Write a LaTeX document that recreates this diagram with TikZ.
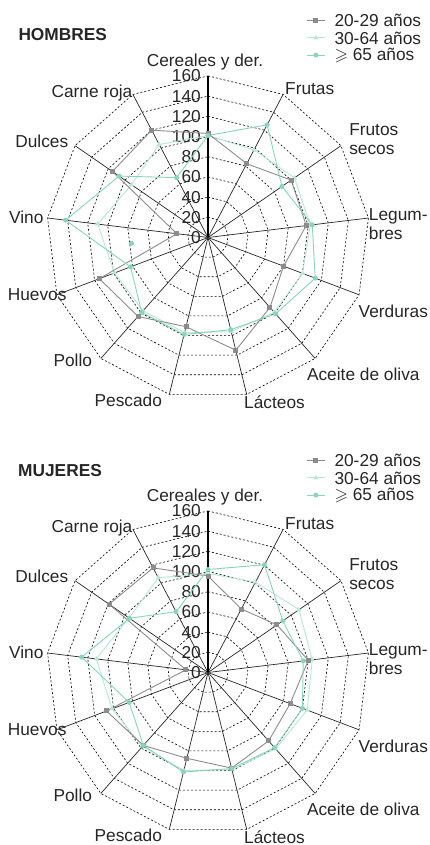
\documentclass[tikz,border=0pt]{standalone}
\usepackage{amssymb}
\usepackage{fontspec}
\setmainfont{Liberation Sans}
\usetikzlibrary{shapes.geometric,calc}
\definecolor{gris}{HTML}{8C8C8C}
\definecolor{verdeclaro}{HTML}{B9E6D7}
\definecolor{verde}{HTML}{8AD3BC}
\begin{document}
\begin{tikzpicture}[x=1pt, y=1pt,
        every node/.style={font=\fontsize{17.3}{19}\selectfont, inner sep=0pt, text=black!85},
        eje/.style={draw=black!85, line width=0.7pt},
        ejecero/.style={draw=black, line width=1.5pt},
        anillo/.style={draw=black, line width=0.6pt, dash pattern=on 2pt off 2pt},
        serieA/.style={draw=gris, line width=0.9pt},
        serieB/.style={draw=verdeclaro, line width=0.9pt},
        serieC/.style={draw=verde, line width=0.9pt},
        marcaA/.style={rectangle, fill=gris, minimum size=5pt},
        marcaB/.style={regular polygon, regular polygon sides=3, fill=verdeclaro, minimum size=6pt},
        marcaC/.style={circle, fill=verde, minimum size=5pt},
        titulo/.style={anchor=west, font=\fontsize{17.3}{19}\selectfont\bfseries},
        leyenda/.style={anchor=west},
        escala/.style={anchor=east},
        categoria/.style={align=left},
    ]
    \useasboundingbox (0,0) rectangle (429,845);

    % ---------- HOMBRES ----------
    \begin{scope}[shift={(208,607.5)}]
        \coordinate (h-c) at (0,0);
        \foreach \r in {20,40,...,160}
            \draw[anillo] (90:{\r*1.01}) \foreach \k in {1,...,12} {-- ({90-\k*360/13}:{\r*1.01})} -- cycle;
        \foreach \k in {1,...,12} {
            \coordinate (h-e\k) at ({90-\k*360/13}:161.6);
            \draw[eje] (h-c) -- (h-e\k);
        }
        \coordinate (h-e0) at (90:161.6);
        \draw[ejecero] (h-c) -- (h-e0);
        \foreach \r in {0,20,...,160}
            \node[escala] (h-t\r) at (-7,{\r*1.01}) {\r};

        % categorias
        \foreach \lab/\x/\y [count=\k] in {Cereales y der./-3/175.5, Frutas/101.7/148.5,
                Frutos\\secos/165.8/98.8, Legum-\\bres/190.3/13.5, Verduras/185.3/-73.5,
                Aceite de oliva/155.3/-137, L\'acteos/66.5/-165, Pescado/-79.7/-163,
                Pollo/-135.2/-122.5, Huevos/-170.8/-57.5, Vino/-181.7/20.2,
                Dulces/-166.2/95.8, Carne roja/-116/144}
            \node[categoria] (h-l\k) at (\x,\y) {\lab};

        % series
        \foreach \v [count=\k from 0] in {101,98,104,102,100,99,96,97,97,99,110,92,104}
            \coordinate (h-b\k) at ({90-\k*360/13}:{\v*1.01});
        \foreach \v [count=\k from 0] in {103,82.5,100,98,80,92.5,115,91,104.5,115,31,115,120}
            \coordinate (h-a\k) at ({90-\k*360/13}:{\v*1.01});
        \foreach \v [count=\k from 0] in {101,126,89,104,113.5,101,94,99,99,82,142,107,67}
            \coordinate (h-d\k) at ({90-\k*360/13}:{\v*1.01});
        \draw[serieB] (h-b0) \foreach \k in {1,...,12} {-- (h-b\k)} -- cycle;
        \draw[serieA] (h-a0) \foreach \k in {1,...,12} {-- (h-a\k)} -- cycle;
        \draw[serieC] (h-d0) \foreach \k in {1,...,12} {-- (h-d\k)} -- cycle;
        \foreach \k in {0,...,12} {
            \node[marcaB] (h-mb\k) at (h-b\k) {};
            \node[marcaA] (h-ma\k) at (h-a\k) {};
            \node[marcaC] (h-md\k) at (h-d\k) {};
        }
        \node[marcaC] (h-suelto) at (-76.5,-5.8) {};

        \node[titulo] (h-titulo) at (-189.7,203.2) {HOMBRES};

        % leyenda
        \foreach \s/\txt [count=\j] in {A/20-29 a\~nos, B/30-64 a\~nos, C/$\geqslant$ 65 a\~nos} {
            \coordinate (h-li\j) at (98.7,{234-17.2*\j});
            \coordinate (h-lf\j) at (117,{234-17.2*\j});
            \draw[serie\s] (h-li\j) -- (h-lf\j);
            \node[marca\s] (h-lm\j) at ($(h-li\j)!0.5!(h-lf\j)$) {};
            \node[leyenda] (h-lt\j) at (126.3,{234-17.2*\j}) {\txt};
        }
    \end{scope}

    % ---------- MUJERES ----------
    \begin{scope}[shift={(208,172.5)}]
        \coordinate (m-c) at (0,0);
        \foreach \r in {20,40,...,160}
            \draw[anillo] (90:{\r*1.01}) \foreach \k in {1,...,12} {-- ({90-\k*360/13}:{\r*1.01})} -- cycle;
        \foreach \k in {1,...,12} {
            \coordinate (m-e\k) at ({90-\k*360/13}:161.6);
            \draw[eje] (m-c) -- (m-e\k);
        }
        \coordinate (m-e0) at (90:161.6);
        \draw[ejecero] (m-c) -- (m-e0);
        \foreach \r in {0,20,...,160}
            \node[escala] (m-t\r) at (-7,{\r*1.01}) {\r};

        % categorias
        \foreach \lab/\x/\y [count=\k] in {Cereales y der./-3/175.5, Frutas/101.7/148.5,
                Frutos\\secos/165.8/98.8, Legum-\\bres/190.3/13.5, Verduras/185.3/-73.5,
                Aceite de oliva/155.3/-137, L\'acteos/66.5/-165, Pescado/-79.7/-163,
                Pollo/-135.2/-122.5, Huevos/-170.8/-57.5, Vino/-181.7/20.2,
                Dulces/-166.2/95.8, Carne roja/-116/144}
            \node[categoria] (m-l\k) at (\x,\y) {\lab};

        % series
        \foreach \v [count=\k from 0] in {98,101,109.5,104,105,101,99,100,98,101.5,111.5,95,106}
            \coordinate (m-b\k) at ({90-\k*360/13}:{\v*1.01});
        \foreach \v [count=\k from 0] in {95.5,71,83,100,87,90.5,97.5,87.5,96.5,107.5,22,119,117}
            \coordinate (m-a\k) at ({90-\k*360/13}:{\v*1.01});
        \foreach \v [count=\k from 0] in {102,120.5,90,95,100,99.5,98,101.5,96.5,83.5,126,94.5,68}
            \coordinate (m-d\k) at ({90-\k*360/13}:{\v*1.01});
        \draw[serieB] (m-b0) \foreach \k in {1,...,12} {-- (m-b\k)} -- cycle;
        \draw[serieA] (m-a0) \foreach \k in {1,...,12} {-- (m-a\k)} -- cycle;
        \draw[serieC] (m-d0) \foreach \k in {1,...,12} {-- (m-d\k)} -- cycle;
        \foreach \k in {0,...,12} {
            \node[marcaB] (m-mb\k) at (m-b\k) {};
            \node[marcaA] (m-ma\k) at (m-a\k) {};
            \node[marcaC] (m-md\k) at (m-d\k) {};
        }

        \node[titulo] (m-titulo) at (-190,201.8) {MUJERES};

        % leyenda
        \foreach \s/\txt [count=\j] in {A/20-29 a\~nos, B/30-64 a\~nos, C/$\geqslant$ 65 a\~nos} {
            \coordinate (m-li\j) at (98.7,{229-17.2*\j});
            \coordinate (m-lf\j) at (117,{229-17.2*\j});
            \draw[serie\s] (m-li\j) -- (m-lf\j);
            \node[marca\s] (m-lm\j) at ($(m-li\j)!0.5!(m-lf\j)$) {};
            \node[leyenda] (m-lt\j) at (126.3,{229-17.2*\j}) {\txt};
        }
    \end{scope}
\end{tikzpicture}
\end{document}
